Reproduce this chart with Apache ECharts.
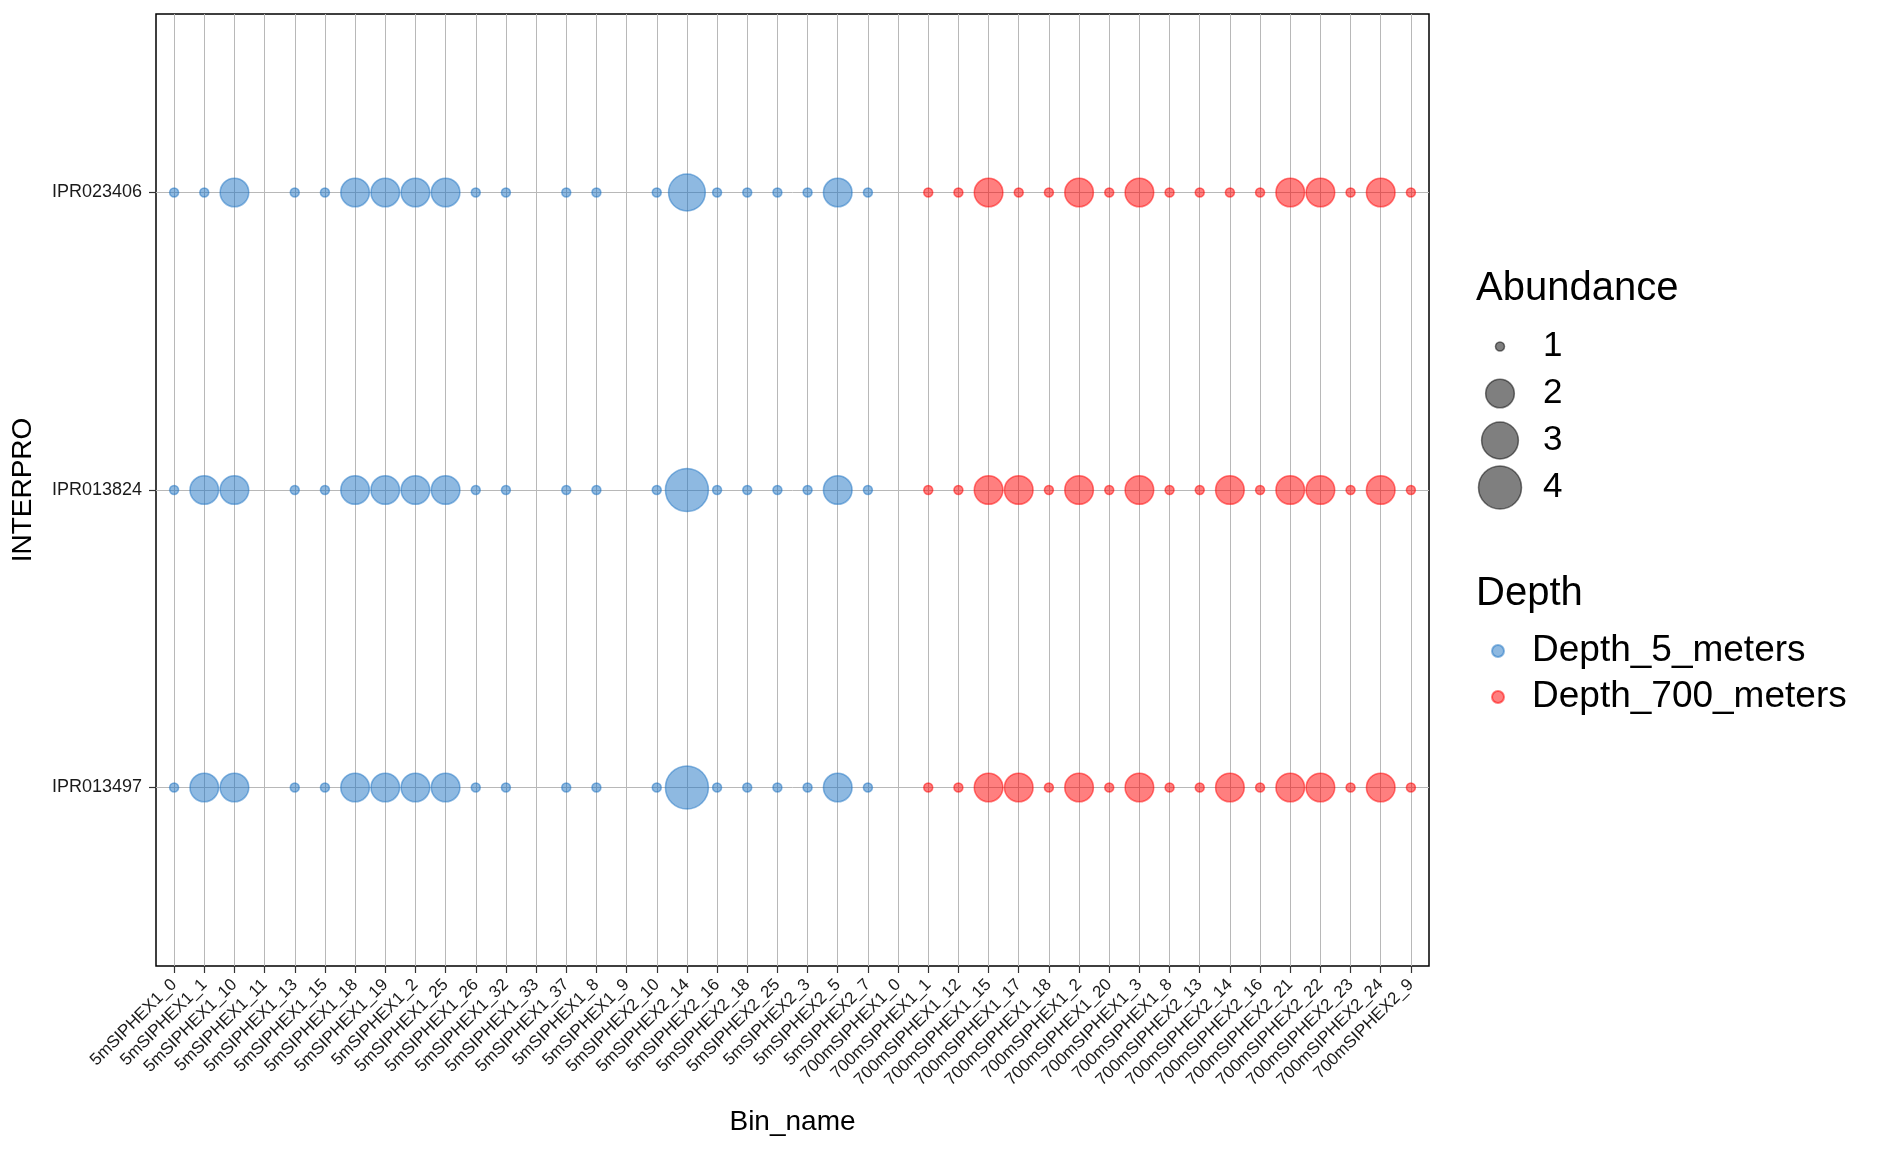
<!DOCTYPE html>
<html>
<head>
<meta charset="utf-8">
<script src="https://cdn.jsdelivr.net/npm/echarts@6/dist/echarts.min.js"></script>
<style>
html, body { margin: 0; padding: 0; background: #fff; }
#chart { width: 1881px; height: 1152px; }
</style>
</head>
<body>
<div id="chart"></div>
<script>
// x categories (Bin_name)
const bins = [
    "5mSIPHEX1_0", "5mSIPHEX1_1", "5mSIPHEX1_10", "5mSIPHEX1_11", "5mSIPHEX1_13", "5mSIPHEX1_15",
    "5mSIPHEX1_18", "5mSIPHEX1_19", "5mSIPHEX1_2", "5mSIPHEX1_25", "5mSIPHEX1_26", "5mSIPHEX1_32",
    "5mSIPHEX1_33", "5mSIPHEX1_37", "5mSIPHEX1_8", "5mSIPHEX1_9", "5mSIPHEX2_10", "5mSIPHEX2_14",
    "5mSIPHEX2_16", "5mSIPHEX2_18", "5mSIPHEX2_25", "5mSIPHEX2_3", "5mSIPHEX2_5", "5mSIPHEX2_7",
    "700mSIPHEX1_0", "700mSIPHEX1_1", "700mSIPHEX1_12", "700mSIPHEX1_15", "700mSIPHEX1_17", "700mSIPHEX1_18",
    "700mSIPHEX1_2", "700mSIPHEX1_20", "700mSIPHEX1_3", "700mSIPHEX1_8", "700mSIPHEX2_13", "700mSIPHEX2_14",
    "700mSIPHEX2_16", "700mSIPHEX2_21", "700mSIPHEX2_22", "700mSIPHEX2_23", "700mSIPHEX2_24", "700mSIPHEX2_9"
];

// y categories, bottom to top
const interpro = ["IPR013497", "IPR013824", "IPR023406"];

// abundance per bin (null = no point)
const abIPR013497 = [1, 2, 2, null, 1, 1, 2, 2, 2, 2, 1, 1, null, 1, 1, null, 1, 4, 1, 1, 1, 1, 2, 1,
    null, 1, 1, 2, 2, 1, 2, 1, 2, 1, 1, 2, 1, 2, 2, 1, 2, 1];
const abIPR013824 = [1, 2, 2, null, 1, 1, 2, 2, 2, 2, 1, 1, null, 1, 1, null, 1, 4, 1, 1, 1, 1, 2, 1,
    null, 1, 1, 2, 2, 1, 2, 1, 2, 1, 1, 2, 1, 2, 2, 1, 2, 1];
const abIPR023406 = [1, 1, 2, null, 1, 1, 2, 2, 2, 2, 1, 1, null, 1, 1, null, 1, 3, 1, 1, 1, 1, 2, 1,
    null, 1, 1, 2, 1, 1, 2, 1, 2, 1, 1, 1, 1, 2, 2, 1, 2, 1];

const sizeBreaks = ["1", "2", "3", "4"];
const depthNames = ["Depth_5_meters", "Depth_700_meters"];

const FONT = "Liberation Sans, Arial, Helvetica, sans-serif";
const colors = {
    "Depth_5_meters": "rgba(30,115,195,0.5)",
    "Depth_700_meters": "rgba(255,0,0,0.5)"
};

// ggplot-like area scale: 1 -> 9px, 4 -> 43px
function dotSize (v) {
    return 9 + 34 * Math.sqrt((v - 1) / 3);
}

const rows = [abIPR013497, abIPR013824, abIPR023406];
const pts = { "Depth_5_meters": [], "Depth_700_meters": [] };
rows.forEach((vals, r) => {
    vals.forEach((v, i) => {
        if (v == null) return;
        const d = bins[i].startsWith("5m") ? depthNames[0] : depthNames[1];
        pts[d].push([i, r, v]);
    });
});

const xIdx = bins.map((b, i) => i);
const yIdx = interpro.map((b, i) => i);

const chart = echarts.init(document.getElementById("chart"), null, { renderer: "canvas" });

const option = {
    animation: false,
    backgroundColor: "#fff",
    title: [
        { text: "Abundance", left: 1476, top: 269, padding: 0,
            textStyle: { fontFamily: FONT, fontSize: 40, fontWeight: "normal", color: "#000" } },
        { text: "Depth", left: 1476, top: 574, padding: 0,
            textStyle: { fontFamily: FONT, fontSize: 40, fontWeight: "normal", color: "#000" } }
    ],
    legend: {
        data: depthNames,
        orient: "vertical",
        left: 1491,
        top: 631,
        padding: 0,
        itemWidth: 12,
        itemHeight: 12,
        itemGap: 6,
        icon: "circle",
        textStyle: { fontFamily: FONT, fontSize: 37, color: "#000", lineHeight: 40, padding: [0, 0, 0, 23] }
    },
    grid: [
        { left: 156, right: 452, top: 14, bottom: 186, show: true, borderColor: "#000", borderWidth: 1.5 },
        { left: 1480, width: 40, top: 323, height: 188 }
    ],
    xAxis: [
        {
            type: "value",
            min: -0.6,
            max: 41.6,
            name: "Bin_name",
            nameLocation: "middle",
            nameGap: 142,
            nameTextStyle: { fontFamily: FONT, fontSize: 28, color: "#000" },
            axisLine: { show: false, onZero: false },
            axisTick: { show: true, length: 7, customValues: xIdx, lineStyle: { color: "#333", width: 1.2 } },
            axisLabel: {
                customValues: xIdx,
                rotate: 45,
                margin: 16,
                fontFamily: FONT,
                fontSize: 17,
                color: "#1a1a1a",
                formatter: v => bins[v]
            },
            splitLine: { show: true, lineStyle: { color: "#b8b8b8", width: 1 } }
        },
        { gridIndex: 1, type: "value", min: -1, max: 1, show: false }
    ],
    yAxis: [
        {
            type: "value",
            min: -0.6,
            max: 2.6,
            name: "INTERPRO",
            nameLocation: "middle",
            nameGap: 119,
            nameTextStyle: { fontFamily: FONT, fontSize: 28, color: "#000" },
            axisLine: { show: false, onZero: false },
            axisTick: { show: true, length: 7, customValues: yIdx, lineStyle: { color: "#333", width: 1.2 } },
            axisLabel: {
                customValues: yIdx,
                margin: 14,
                fontFamily: FONT,
                fontSize: 18,
                color: "#1a1a1a",
                formatter: v => interpro[v]
            },
            splitLine: { show: true, lineStyle: { color: "#b8b8b8", width: 1 } }
        },
        {
            gridIndex: 1,
            type: "category",
            data: sizeBreaks,
            inverse: true,
            position: "right",
            axisLine: { show: false },
            axisTick: { show: false },
            axisLabel: { margin: 23, fontFamily: FONT, fontSize: 35, color: "#000" },
            splitLine: { show: false }
        }
    ],
    series: [
        ...depthNames.map(name => ({
            name,
            type: "scatter",
            data: pts[name],
            symbolSize: v => dotSize(v[2]),
            itemStyle: { color: colors[name], borderColor: colors[name], borderWidth: 1.5, opacity: 1 },
            silent: true
        })),
        {
            name: "Abundance",
            type: "scatter",
            xAxisIndex: 1,
            yAxisIndex: 1,
            data: sizeBreaks.map(s => [0, s]),
            symbolSize: v => dotSize(Number(v[1])),
            itemStyle: { color: "rgba(0,0,0,0.5)", borderColor: "rgba(0,0,0,0.5)", borderWidth: 1.5, opacity: 1 },
            silent: true
        }
    ]
};
chart.setOption(option);
</script>
</body>
</html>
